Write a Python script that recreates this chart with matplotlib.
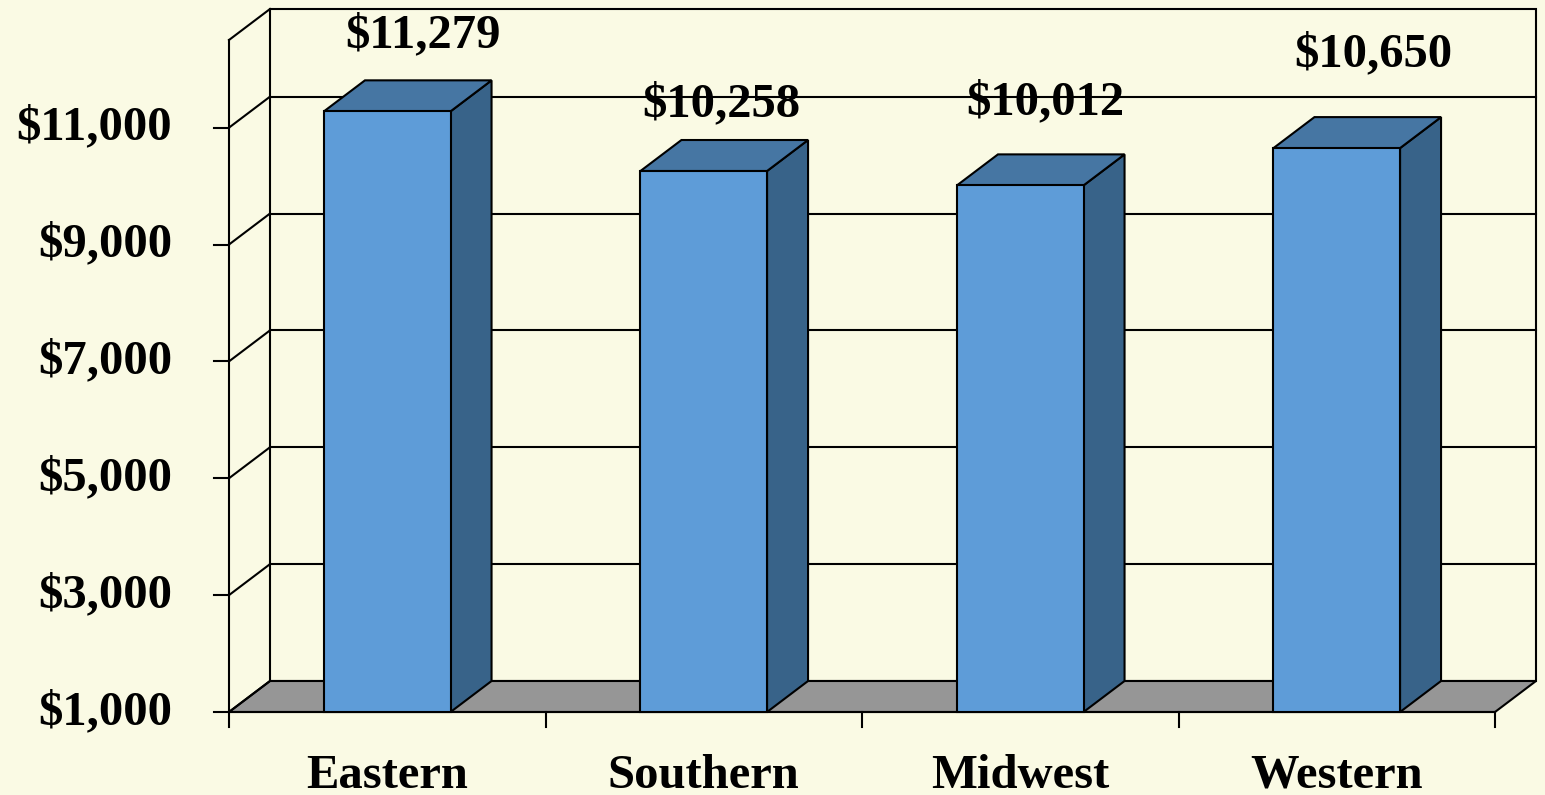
import numpy as np
import matplotlib
matplotlib.use("Agg")
import matplotlib.pyplot as plt
from matplotlib.patches import Polygon, Rectangle

# data
regions = ["Eastern", "Southern", "Midwest", "Western"]
values = [11279, 10258, 10012, 10650]
value_labels = ["$11,279", "$10,258", "$10,012", "$10,650"]
yticks = [1000, 3000, 5000, 7000, 9000, 11000]
ytick_labels = ["$1,000", "$3,000", "$5,000", "$7,000", "$9,000", "$11,000"]
# where the chart put its value labels (category units, value units)
label_x = [0.613, 1.554, 2.578, 3.615]
label_y = [12370, 11188, 11223, 12045]

BG = "#FAFAE4"
FRONT = "#5E9CD8"
TOP = "#4676A3"
SIDE = "#386389"
FLOOR = "#969696"

W, H = 1545, 795
fig = plt.figure(figsize=(W / 100, H / 100), dpi=100, facecolor=BG)
# front axis: x 229..1495 px, y 712..40 px
ax = fig.add_axes([229 / W, (H - 712) / H, 1266 / W, 672 / H])
ax.set_xlim(0, 4)
ymin, ymax = 1000, 12500
ax.set_ylim(ymin, ymax)
ax.axis("off")

px_x = 4 / 1266
px_y = (ymax - ymin) / 672
dx, dy = 41 * px_x, 31 * px_y
lw = 1.5
n = len(regions)

kw = dict(clip_on=False, lw=lw, edgecolor="black", joinstyle="miter")

# floor
ax.add_patch(Polygon([(0, ymin), (n, ymin), (n + dx, ymin + dy), (dx, ymin + dy)],
                     facecolor=FLOOR, zorder=1, **kw))
# back wall
ax.add_patch(Rectangle((dx, ymin + dy), n, ymax - ymin, facecolor=BG, zorder=0, **kw))
for v in yticks[1:]:
    ax.plot([dx, n + dx], [v + dy, v + dy], color="black", lw=lw, zorder=0.5, clip_on=False)
# left wall
for v in yticks + [ymax]:
    ax.plot([0, dx], [v, v + dy], color="black", lw=lw, zorder=2, clip_on=False)
ax.plot([0, 0], [ymin, ymax], color="black", lw=lw, zorder=2, clip_on=False)
# ticks
for v in yticks:
    ax.plot([-15 * px_x, 0], [v, v], color="black", lw=lw, zorder=2, clip_on=False)
for i in range(n + 1):
    ax.plot([i, i], [ymin, ymin - 15 * px_y], color="black", lw=lw, zorder=2, clip_on=False)
ax.plot([0, n], [ymin, ymin], color="black", lw=lw, zorder=2, clip_on=False)

# bars
bw = 0.4
for i, v in enumerate(values):
    x0 = i + 0.5 - bw / 2
    x1 = x0 + bw
    ax.add_patch(Polygon([(x1, ymin), (x1 + dx, ymin + dy), (x1 + dx, v + dy), (x1, v)],
                         facecolor=SIDE, zorder=3, **kw))
    ax.add_patch(Polygon([(x0, v), (x1, v), (x1 + dx, v + dy), (x0 + dx, v + dy)],
                         facecolor=TOP, zorder=3, **kw))
    ax.add_patch(Rectangle((x0, ymin), bw, v - ymin, facecolor=FRONT, zorder=4, **kw))

font = dict(family="Liberation Serif", fontweight="bold", fontsize=35, color="black")
for lx, ly, s in zip(label_x, label_y, value_labels):
    ax.text(lx, ly, s, ha="center", va="baseline", zorder=6, **font)
for v, s in zip(yticks, ytick_labels):
    ax.text(-57 * px_x, v, s, ha="right", va="center", **font)
for i, s in enumerate(regions):
    ax.text(i + 0.5, ymin - 76 * px_y, s, ha="center", va="baseline", **font)

fig.savefig("out.png", dpi=100, facecolor=BG)
